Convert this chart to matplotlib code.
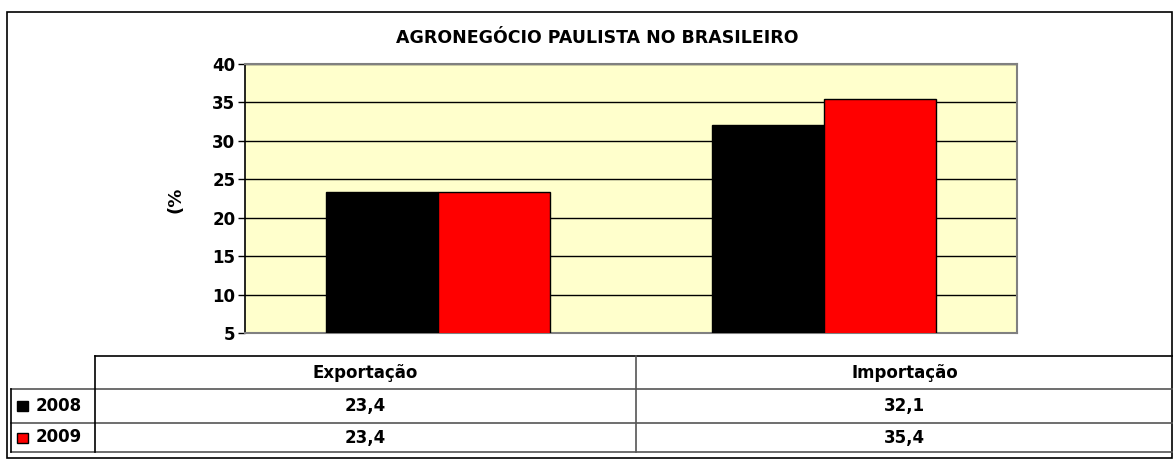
import matplotlib
matplotlib.use("Agg")
import matplotlib.pyplot as plt
from matplotlib.patches import Rectangle
from matplotlib.lines import Line2D
import numpy as np

plt.rcParams['font.family'] = ['DejaVu Sans']
plt.rcParams['font.weight'] = 'bold'

categories = ["Exportação", "Importação"]
years = ["2008", "2009"]
values_2008 = [23.4, 32.1]
values_2009 = [23.4, 35.4]
labels_2008 = ["23,4", "32,1"]
labels_2009 = ["23,4", "35,4"]
colors = ["#000000", "#ff0000"]

W, H = 1173, 459
fig = plt.figure(figsize=(W / 100, H / 100), dpi=100)


def fx(px):
    return px / W


def fy(py):
    return 1 - py / H


# plot area in pixels
left, right, top, bottom = 245, 1017, 64, 333
ax = fig.add_axes([fx(left), fy(bottom), fx(right - left), (bottom - top) / H])
ax.set_facecolor("#ffffcc")

x = np.arange(len(categories))
bw = 0.29
ax.bar(x - bw / 2, values_2008, bw, color=colors[0], edgecolor="black", linewidth=1, zorder=3)
ax.bar(x + bw / 2, values_2009, bw, color=colors[1], edgecolor="black", linewidth=1, zorder=3)

ax.set_xlim(-0.5, 1.5)
ax.set_ylim(5, 40)
ax.set_yticks(range(5, 41, 5))
ax.yaxis.grid(True, color="black", linewidth=1, zorder=0)
ax.set_axisbelow(True)
ax.set_xticks([])
ax.tick_params(axis="y", length=5, width=1, labelsize=12, pad=2)
for lab in ax.get_yticklabels():
    lab.set_fontweight("bold")
for s in ["top", "right", "bottom"]:
    ax.spines[s].set_color("#808080")
    ax.spines[s].set_linewidth(1.5)
ax.spines["left"].set_color("black")
ax.spines["left"].set_linewidth(1.2)

fig.text(fx(176), fy(200), "(%", rotation=90, ha="center", va="center",
         fontsize=13, fontweight="bold")

fig.text(fx(597), fy(38), "AGRONEGÓCIO PAULISTA NO BRASILEIRO", ha="center",
         va="center", fontsize=12.5, fontweight="bold")

# outer border
fig.patches.append(Rectangle((fx(7), fy(458)), fx(1172 - 7), (458 - 12) / H,
                             transform=fig.transFigure, fill=False,
                             edgecolor="black", linewidth=1.2))

# data table
col_x = [95, 636, 1173]
row_y = [356, 389, 423, 452]
tab_left = 11


def hline(y, x0, x1, c="black", lw=1.2):
    fig.add_artist(Line2D([fx(x0), fx(x1)], [fy(y), fy(y)], color=c, lw=lw))


def vline(xp, y0, y1, c="black", lw=1.2):
    fig.add_artist(Line2D([fx(xp), fx(xp)], [fy(y0), fy(y1)], color=c, lw=lw))


hline(row_y[0], col_x[0], col_x[2])
hline(row_y[1], tab_left, col_x[2], c="#555555")
hline(row_y[2], tab_left, col_x[2], c="#555555")
hline(row_y[3], tab_left, col_x[2], c="#555555")
vline(col_x[0], row_y[0], row_y[3])
vline(col_x[1], row_y[0], row_y[3], c="#555555")
vline(tab_left, row_y[1], row_y[3])

for i, cat in enumerate(categories):
    cx = (col_x[i] + col_x[i + 1]) / 2
    fig.text(fx(cx), fy((row_y[0] + row_y[1]) / 2), cat, ha="center",
             va="center", fontsize=12, fontweight="bold")
    fig.text(fx(cx), fy((row_y[1] + row_y[2]) / 2), labels_2008[i],
             ha="center", va="center", fontsize=12, fontweight="bold")
    fig.text(fx(cx), fy((row_y[2] + row_y[3]) / 2), labels_2009[i],
             ha="center", va="center", fontsize=12, fontweight="bold")

for j, yr in enumerate(years):
    cy = (row_y[j + 1] + row_y[j + 2]) / 2
    fig.patches.append(Rectangle((fx(17), fy(cy + 5)), fx(11), 10 / H,
                                 transform=fig.transFigure,
                                 facecolor=colors[j], edgecolor="black", lw=1))
    fig.text(fx(36), fy(cy), yr, ha="left", va="center", fontsize=12,
             fontweight="bold")

fig.savefig("out.png", dpi=100)
